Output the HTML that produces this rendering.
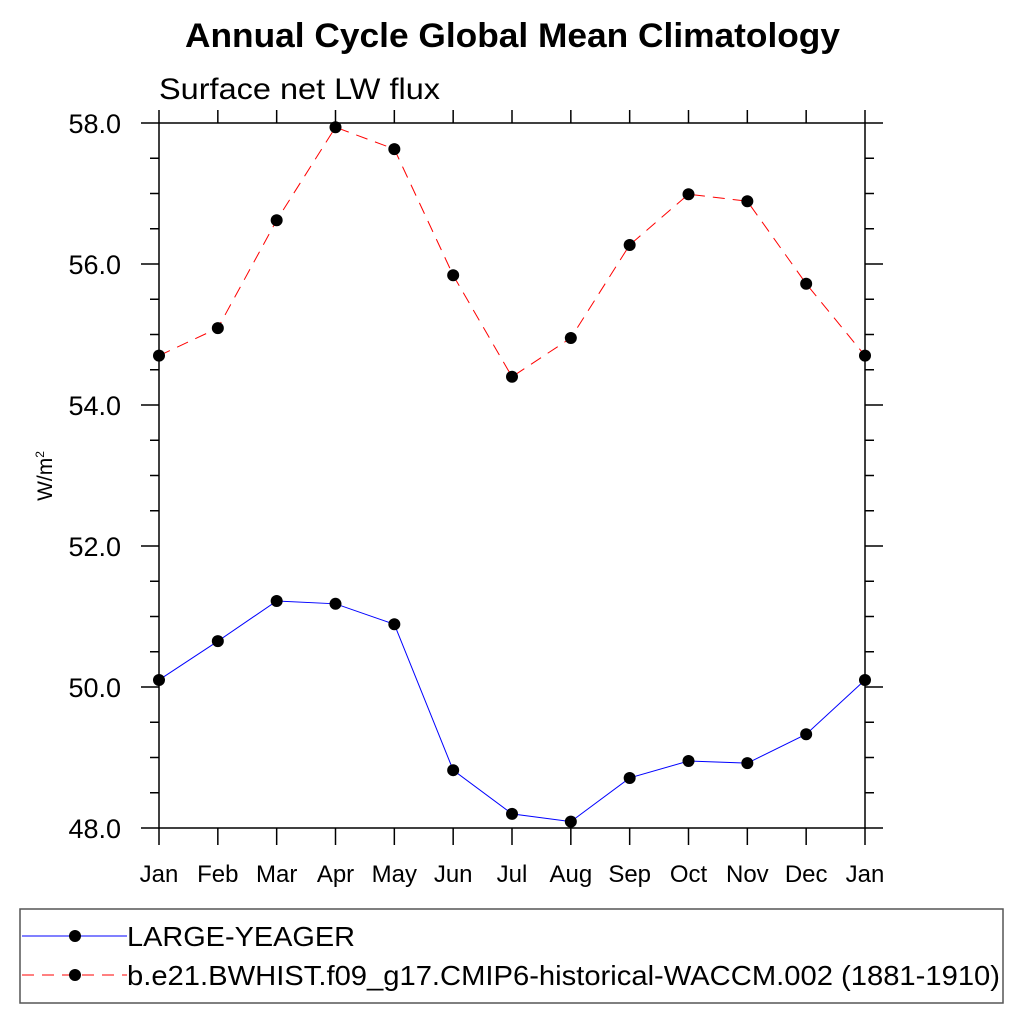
<!DOCTYPE html>
<html><head><meta charset="utf-8"><style>
body{margin:0;background:#fff}
svg text{font-family:"Liberation Sans",sans-serif}
</style></head><body>
<svg id="c" width="1024" height="1024" xmlns="http://www.w3.org/2000/svg">
<text x="185" y="47" textLength="655" lengthAdjust="spacingAndGlyphs" font-size="34" font-weight="bold">Annual Cycle Global Mean Climatology</text>
<text x="159" y="99" textLength="281" lengthAdjust="spacingAndGlyphs" font-size="30">Surface net LW flux</text>
<text transform="translate(52,476) rotate(-90)" text-anchor="middle" font-size="21">W/m<tspan dy="-8" font-size="12">2</tspan></text>
<g id="axes"></g>
<g id="series"></g>
<rect x="20" y="909" width="983" height="94" fill="none" stroke="#555" stroke-width="1.5"/>
<g>
<line x1="22" y1="936" x2="127" y2="936" stroke="#00f" stroke-width="1"/>
<circle cx="75" cy="936" r="6" fill="#000"/>
<text x="127" y="946" textLength="228" lengthAdjust="spacingAndGlyphs" font-size="28">LARGE-YEAGER</text></g>
<g>
<line x1="22" y1="975" x2="127" y2="975" stroke="#f00" stroke-width="1" stroke-dasharray="12,8"/>
<circle cx="75" cy="975" r="6" fill="#000"/>
<text x="127" y="985" textLength="873" lengthAdjust="spacingAndGlyphs" font-size="28">b.e21.BWHIST.f09_g17.CMIP6-historical-WACCM.002 (1881-1910)</text></g>
</svg>
<script>
const months=["Jan","Feb","Mar","Apr","May","Jun","Jul","Aug","Sep","Oct","Nov","Dec","Jan"];
const largeYeager=[50.10,50.65,51.22,51.18,50.89,48.82,48.20,48.09,48.71,48.95,48.92,49.33,50.10];
const waccm=[54.70,55.09,56.62,57.94,57.63,55.84,54.40,54.95,56.27,56.99,56.89,55.72,54.70];
const yTicks=[48,50,52,54,56,58];
const yTickLabels=["48.0","50.0","52.0","54.0","56.0","58.0"];
const X0=159,X1=865,Y0=828,Y1=123,ymin=48,ymax=58;
const xs=i=>X0+(X1-X0)*i/(months.length-1);
const ys=v=>Y0-(v-ymin)/(ymax-ymin)*(Y0-Y1);
const NS="http://www.w3.org/2000/svg";
function mk(t,a,p){const e=document.createElementNS(NS,t);for(const k in a)e.setAttribute(k,a[k]);p.appendChild(e);return e;}
const ax=document.getElementById('axes');
const st={stroke:"#000","stroke-width":1.5};
const fr=mk('rect',{x:X0,y:Y1,width:X1-X0,height:Y0-Y1,fill:"none",stroke:"#000","stroke-width":1.5},ax);


for(let v=ymin;v<=ymax+1e-9;v+=0.5){
 const maj=Math.abs(v/2-Math.round(v/2))<1e-6, L=maj?18:9, y=ys(v);
 mk('line',Object.assign({x1:X0-L,y1:y,x2:X0,y2:y},st),ax);
 mk('line',Object.assign({x1:X1,y1:y,x2:X1+L,y2:y},st),ax);
}
yTicks.forEach((v,i)=>{const t=mk('text',{x:121,y:ys(v)+10,"text-anchor":"end","font-size":27},ax);t.textContent=yTickLabels[i];

});
months.forEach((m,i)=>{const x=xs(i);
 mk('line',Object.assign({x1:x,y1:Y0,x2:x,y2:Y0+17},st),ax);
 mk('line',Object.assign({x1:x,y1:Y1,x2:x,y2:Y1-13},st),ax);
 const t=mk('text',{x:x,y:Y0+54,"text-anchor":"middle","font-size":24},ax);t.textContent=m;
 
 });
const sg=document.getElementById('series');
function draw(d,color,dash,name){
 const g=mk('g',{},sg);
 
 
 const a={points:d.map((v,i)=>xs(i)+","+ys(v)).join(" "),fill:"none",stroke:color,"stroke-width":1};
 if(dash)a["stroke-dasharray"]=dash;
 mk('polyline',a,g);
 d.forEach((v,i)=>{const c=mk('circle',{cx:xs(i),cy:ys(v),r:6,fill:"#000"},g);
 
 });
}
draw(largeYeager,"#00f",null,"series-large-yeager");
draw(waccm,"#f00","12,8","series-waccm");
</script>
</body></html>
